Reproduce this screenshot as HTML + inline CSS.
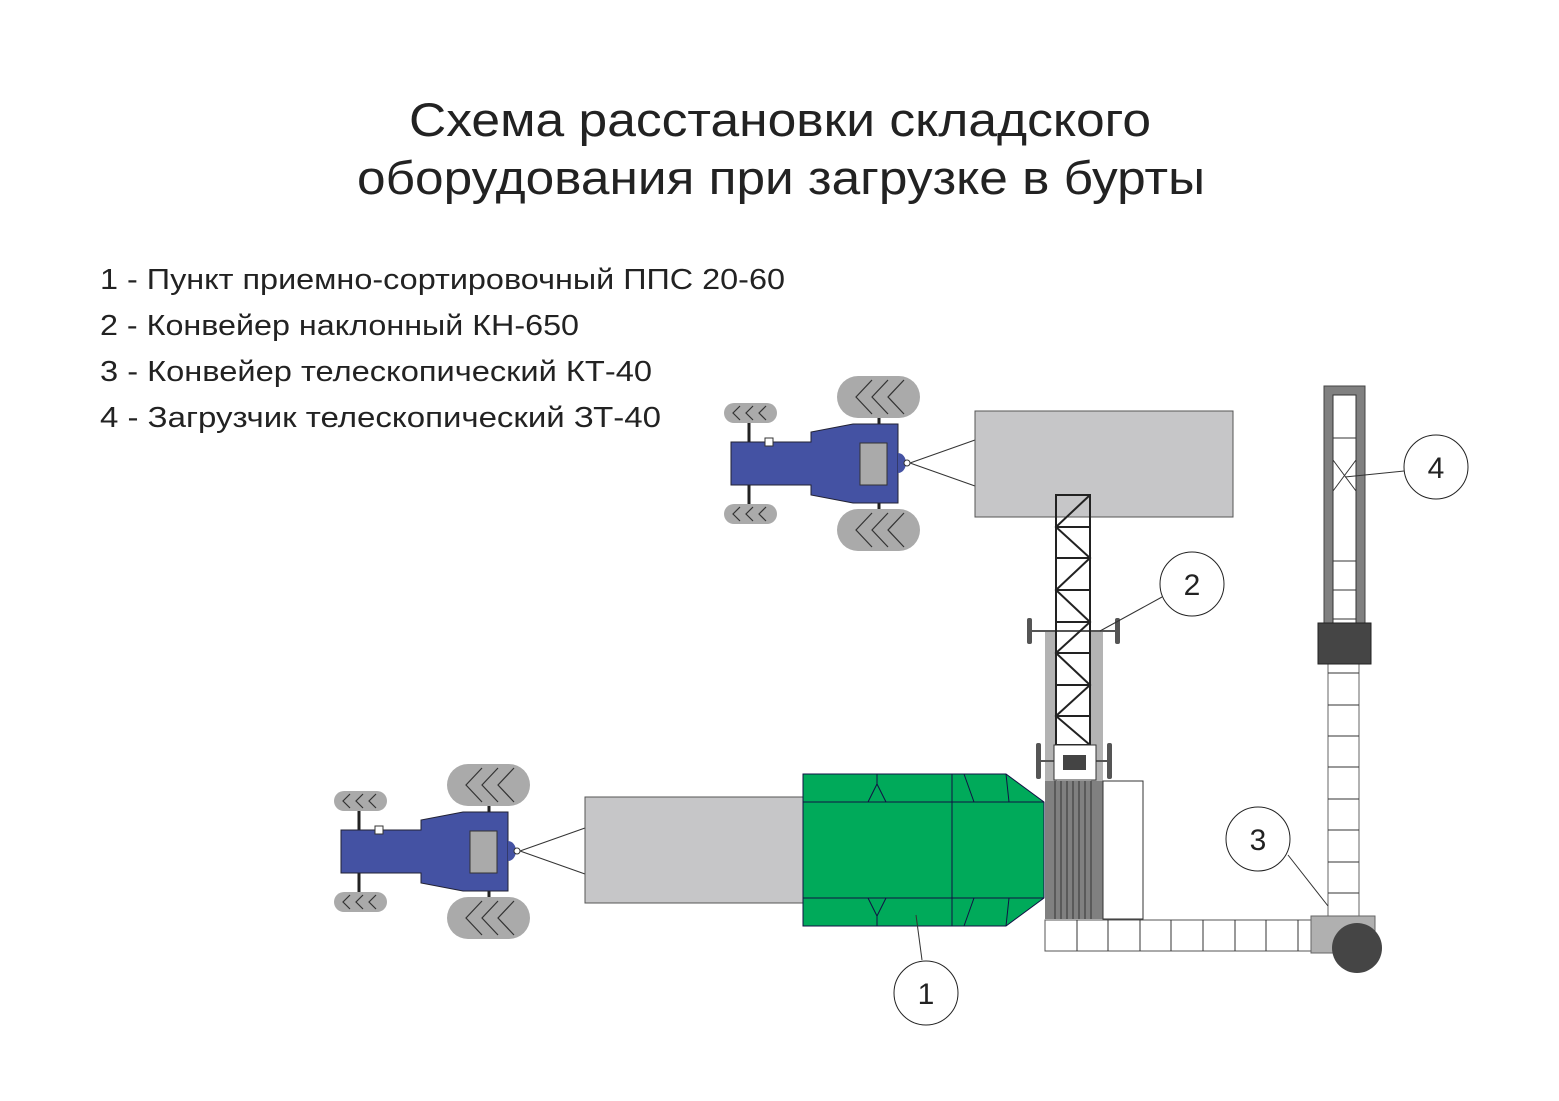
<!DOCTYPE html>
<html><head><meta charset="utf-8"><style>body{margin:0;background:#fff}svg{display:block}</style></head><body>
<svg width="1559" height="1101" viewBox="0 0 1559 1101" xmlns="http://www.w3.org/2000/svg" font-family="Liberation Sans, sans-serif">
<text x="409" y="136" font-size="47" textLength="742" lengthAdjust="spacingAndGlyphs" fill="#222">Схема расстановки складского</text>
<text x="357" y="194" font-size="47" textLength="848" lengthAdjust="spacingAndGlyphs" fill="#222">оборудования при загрузке в бурты</text>
<g font-size="29" fill="#222">
<text x="100" y="289" textLength="685" lengthAdjust="spacingAndGlyphs">1 - Пункт приемно-сортировочный ППС 20-60</text>
<text x="100" y="335" textLength="479" lengthAdjust="spacingAndGlyphs">2 - Конвейер наклонный КН-650</text>
<text x="100" y="381" textLength="552" lengthAdjust="spacingAndGlyphs">3 - Конвейер телескопический КТ-40</text>
<text x="100" y="427" textLength="561" lengthAdjust="spacingAndGlyphs">4 - Загрузчик телескопический ЗТ-40</text>
</g>
<defs>
<g id="tr">
<line x1="749" y1="420" x2="749" y2="507" stroke="#222" stroke-width="3"/>
<line x1="879" y1="412" x2="879" y2="515" stroke="#222" stroke-width="3"/>
<rect x="724" y="403" width="53" height="20" rx="10" fill="#aaa"/>
<rect x="724" y="504" width="53" height="20" rx="10" fill="#aaa"/>
<rect x="837" y="376" width="83" height="42" rx="21" fill="#aaa"/>
<rect x="837" y="509" width="83" height="42" rx="21" fill="#aaa"/>
<path d="M740 406l-7 7 7 7M753 406l-7 7 7 7M766 406l-7 7 7 7M740 507l-7 7 7 7M753 507l-7 7 7 7M766 507l-7 7 7 7" fill="none" stroke="#333" stroke-width="1.2"/>
<path d="M872 380l-16 17 16 17M888 380l-16 17 16 17M904 380l-16 17 16 17M872 513l-16 17 16 17M888 513l-16 17 16 17M904 513l-16 17 16 17" fill="none" stroke="#333" stroke-width="1.2"/>
<polygon points="731,442 811,442 811,432 853,424 898,424 898,503 853,503 811,495 811,485 731,485" fill="#4452a3" stroke="#223" stroke-width="1"/>
<rect x="765" y="438" width="8" height="8" fill="#fff" stroke="#333"/>
<rect x="860" y="443" width="27" height="42" fill="#aaa" stroke="#333"/>
<path d="M898 453a8 10 0 0 1 0 20z" fill="#4452a3"/>
<circle cx="907" cy="463" r="3" fill="#fff" stroke="#333"/>
<path d="M910 463L975 440M910 463L975 486" stroke="#333" stroke-width="1"/>
</g>
</defs>
<use href="#tr"/>
<use href="#tr" transform="translate(-390,388)"/>
<rect x="975" y="411" width="258" height="106" fill="#c6c6c8" stroke="#555"/>
<rect x="585" y="797" width="220" height="106" fill="#c6c6c8" stroke="#555"/>
<polygon points="803,774 1006,774 1044,802 1044,898 1006,926 803,926" fill="#00aa5a" stroke="#114" stroke-width="1"/>
<path d="M803 802H1044M803 898H1044M952 774V926M964 774L974 802M1006 774L1009 802M974 898L964 926M1009 898L1006 926M877 774V784L868 802M877 784L886 802M877 926V916L868 898M877 916L886 898" fill="none" stroke="#114" stroke-width="1"/>
<path d="M916 915L922 960" stroke="#333"/>
<rect x="1045" y="631" width="58" height="150" fill="#b3b3b3"/>
<rect x="1057" y="631" width="34" height="150" fill="#fff"/>
<rect x="1045" y="781" width="58" height="138" fill="#808080"/>
<path d="M1055 781V919M1061 781V919M1067 781V919M1073 781V919M1079 781V919M1085 781V919M1091 781V919" stroke="#333"/>
<rect x="1103" y="781" width="40" height="138" fill="#fff" stroke="#333"/>
<path d="M1030 631H1118M1039 761H1110" stroke="#555" stroke-width="2"/>
<rect x="1027" y="618" width="5" height="26" rx="2" fill="#555"/>
<rect x="1115" y="618" width="5" height="26" rx="2" fill="#555"/>
<rect x="1036" y="743" width="5" height="36" rx="2" fill="#555"/>
<rect x="1107" y="743" width="5" height="36" rx="2" fill="#555"/>
<g stroke="#222" stroke-width="2" fill="none">
<rect x="1056" y="495" width="34" height="250"/>
<path d="M1056 527H1090M1056 558H1090M1056 590H1090M1056 622H1090M1056 653H1090M1056 685H1090M1056 716H1090"/>
<path d="M1090 495L1056 527L1090 558L1056 590L1090 622L1056 653L1090 685L1056 716L1090 745"/>
</g>
<rect x="1054" y="745" width="42" height="35" fill="#fff" stroke="#333"/>
<rect x="1063" y="755" width="23" height="15" fill="#444"/>
<rect x="1045" y="920" width="273" height="31" fill="#fff" stroke="#555"/>
<path d="M1077 920V951M1108 920V951M1140 920V951M1171 920V951M1203 920V951M1235 920V951M1266 920V951M1298 920V951" stroke="#333"/>
<rect x="1328" y="664" width="31" height="252" fill="#fff" stroke="#666"/>
<path d="M1328 673H1359M1328 705H1359M1328 736H1359M1328 767H1359M1328 799H1359M1328 830H1359M1328 862H1359M1328 893H1359" stroke="#333"/>
<rect x="1311" y="916" width="64" height="37" fill="#b0b0b0" stroke="#666"/>
<circle cx="1357" cy="948" r="25" fill="#454545"/>
<rect x="1324" y="386" width="41" height="237" fill="#808080" stroke="#444"/>
<rect x="1333" y="395" width="23" height="228" fill="#fff" stroke="#333"/>
<path d="M1333 438H1356M1333 561H1356M1333 590H1356M1333 619H1356M1333 460L1356 491M1356 460L1333 491" stroke="#333"/>
<rect x="1318" y="623" width="53" height="41" fill="#454545" stroke="#222"/>
<g fill="#fff" stroke="#222" stroke-width="1">
<circle cx="926" cy="993" r="32"/><circle cx="1192" cy="584" r="32"/><circle cx="1258" cy="839" r="32"/><circle cx="1436" cy="467" r="32"/>
</g>
<path d="M1162 597L1100 631M1288 855L1328 906M1404 471L1345 477" stroke="#333"/>
<g font-size="30" text-anchor="middle" fill="#222">
<text x="926" y="1004">1</text><text x="1192" y="595">2</text><text x="1258" y="850">3</text><text x="1436" y="478">4</text>
</g>
</svg>
</body></html>
